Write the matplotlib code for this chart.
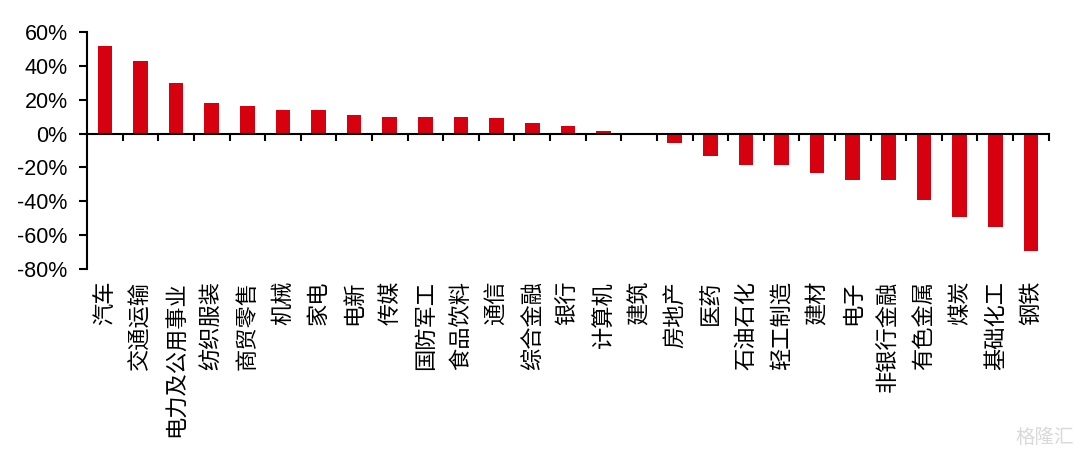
import numpy as np
import matplotlib
matplotlib.use('Agg')
import matplotlib.pyplot as plt
import matplotlib.transforms as mtrans
from matplotlib.ticker import FuncFormatter

plt.rcParams['font.family'] = ['Liberation Sans', 'Noto Sans CJK SC', 'DejaVu Sans']

# industries and their returns (%)
industries = ['汽车', '交通运输', '电力及公用事业', '纺织服装', '商贸零售', '机械', '家电',
              '电新', '传媒', '国防军工', '食品饮料', '通信', '综合金融', '银行', '计算机',
              '建筑', '房地产', '医药', '石油石化', '轻工制造', '建材', '电子',
              '非银行金融', '有色金属', '煤炭', '基础化工', '钢铁']
returns = [52, 43, 30, 18, 16, 14, 14, 11, 10, 10, 10, 9, 6, 4.5, 1.8,
           0.3, -5.5, -13.4, -18.5, -18.5, -23.5, -27.6, -27.6, -39.4, -49.5, -55.4, -69.4]
yticks = [-80, -60, -40, -20, 0, 20, 40, 60]

fig = plt.figure(figsize=(10.8, 4.5), dpi=100)
ax = fig.add_axes([0.0806, 0.402, 0.8904, 0.527])

x = np.arange(len(industries))
ax.bar(x, returns, width=0.41, color='#D7000F', zorder=2)

ax.set_xlim(-0.5, len(industries) - 0.5)
ax.set_ylim(-80, 60)
ax.set_yticks(yticks)
ax.yaxis.set_major_formatter(FuncFormatter(lambda v, p: f'{v:.0f}%'))
ax.tick_params(axis='y', direction='out', length=6, width=1.5, pad=8, labelsize=15.5)

ax.spines['top'].set_visible(False)
ax.spines['right'].set_visible(False)
ax.spines['left'].set_linewidth(1.5)
ax.spines['bottom'].set_linewidth(1.5)
ax.spines['bottom'].set_position(('data', 0))
ax.spines['bottom'].set_zorder(3)

# ticks between categories on the zero line
ax.set_xticks(x + 0.5)
ax.set_xticklabels([])
ax.tick_params(axis='x', direction='out', length=5, width=1.5)

# category labels below the plot area
trans = mtrans.blended_transform_factory(ax.transData, ax.transAxes)
for xi, name in zip(x, industries):
    ax.text(xi, -0.05, name, rotation=90, ha='center', va='top', fontsize=16,
            transform=trans, family=['Noto Sans CJK SC', 'DejaVu Sans'])

fig.text(0.994, 0.027, '格隆汇', color='#d9d9d9', fontsize=14, ha='right', va='center',
         family=['Noto Sans CJK SC', 'DejaVu Sans'])

fig.savefig('out.png', dpi=100)
